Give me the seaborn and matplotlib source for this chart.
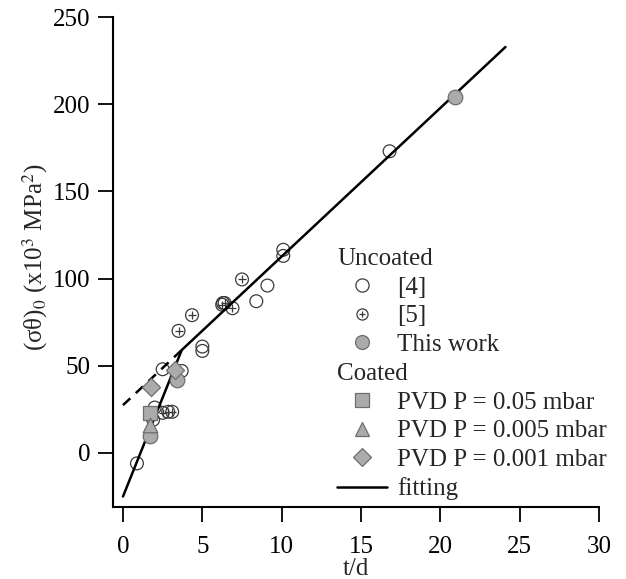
import numpy as np
import pandas as pd
import matplotlib
matplotlib.use('Agg')
import matplotlib.pyplot as plt
import seaborn as sns
from matplotlib.lines import Line2D
from matplotlib.legend_handler import HandlerTuple

# Uncoated [4] (open circles)
ref4_x = [0.88, 1.9, 2.0, 2.5, 3.7, 5.0, 5.0, 6.3, 8.4, 9.1, 10.1, 10.1, 16.8]
ref4_y = [-6, 19, 26, 48, 47, 61, 58.5, 86, 87, 96, 116.5, 113, 173]
# Uncoated [5] (circle with plus)
ref5_x = [2.5, 2.85, 3.1, 3.5, 4.35, 6.25, 6.4, 6.9, 7.5]
ref5_y = [23, 23.6, 23.6, 70, 79, 85, 86, 83, 99.5]
# Uncoated, this work
this_x = [1.7, 3.4, 20.9]
this_y = [9.8, 42, 204]
# Coated PVD
pvd05_x = [1.7]
pvd05_y = [23]
pvd005_x = [1.7]
pvd005_y = [16]
pvd001_x = [1.76, 3.28]
pvd001_y = [38, 47.7]
# fitting (two-segment) and dashed extension of upper segment
fit_x = [0, 3.7, 24.1]
fit_y = [-25, 59, 232.8]
ext_x = [0, 3.7]
ext_y = [27.4, 59]

labels = ['Uncoated', '[4]', '[5]', 'This work', 'Coated',
          'PVD P = 0.05 mbar', 'PVD P = 0.005 mbar', 'PVD P = 0.001 mbar', 'fitting']

sns.set_theme(style='ticks')
plt.rcParams['font.family'] = ['Liberation Serif', 'DejaVu Serif']
plt.rcParams['mathtext.fontset'] = 'stix'
plt.rcParams['font.size'] = 18

gray = '#ababab'
gedge = '#6e6e6e'
oedge = '#3a3a3a'

fig = plt.figure(figsize=(6.26, 5.79), dpi=100)
ax = fig.add_axes([0.1805, 0.1244, 0.7765, 0.8462])

sns.scatterplot(x=ref4_x, y=ref4_y, ax=ax, marker='o', s=85, facecolor='none',
                edgecolor=oedge, linewidth=0.9, zorder=2)
sns.scatterplot(x=ref5_x, y=ref5_y, ax=ax, marker='o', s=85, facecolor='none',
                edgecolor=oedge, linewidth=0.9, zorder=2)
sns.scatterplot(x=ref5_x, y=ref5_y, ax=ax, marker='+', s=40, color=oedge,
                linewidth=0.9, zorder=2)
sns.lineplot(x=fit_x, y=fit_y, ax=ax, color='black', lw=1.8, zorder=3)
sns.lineplot(x=ext_x, y=ext_y, ax=ax, color='black', lw=1.8, zorder=3,
             linestyle=(0, (4, 3)))
sns.scatterplot(x=this_x, y=this_y, ax=ax, marker='o', s=110, color=gray,
                edgecolor=gedge, linewidth=0.9, zorder=4)
sns.scatterplot(x=pvd05_x, y=pvd05_y, ax=ax, marker='s', s=110, color=gray,
                edgecolor=gedge, linewidth=0.9, zorder=4)
sns.scatterplot(x=pvd005_x, y=pvd005_y, ax=ax, marker='^', s=110, color=gray,
                edgecolor=gedge, linewidth=0.9, zorder=4)
sns.scatterplot(x=pvd001_x, y=pvd001_y, ax=ax, marker='D', s=85, color=gray,
                edgecolor=gedge, linewidth=0.9, zorder=5)

ax.set_xlim(-0.63, 30)
ax.set_ylim(-31, 250)
ax.set_xticks(np.arange(0, 31, 5))
ax.set_yticks(np.arange(0, 251, 50))
sns.despine(ax=ax)
for sp in ['left', 'bottom']:
    ax.spines[sp].set_linewidth(1.5)
    ax.spines[sp].set_color('black')
ax.tick_params(direction='out', length=11, width=1.3, labelsize=18, colors='black')
ax.tick_params(axis='x', pad=10)
ax.tick_params(axis='y', pad=5)

ax.set_xlabel('t/d', fontsize=18, labelpad=0)
ax.set_ylabel('(σθ)$_0$ (x10$^3$ MPa$^2$)', fontsize=18)
ax.yaxis.set_label_coords(-0.13, 0.51)

blank = Line2D([], [], linestyle='none')
h4 = Line2D([], [], marker='o', ls='none', mfc='none', mec=oedge, ms=9.5, mew=0.9)
h5 = (Line2D([], [], marker='o', ls='none', mfc='none', mec=oedge, ms=8, mew=0.9),
      Line2D([], [], marker='+', ls='none', mec=oedge, ms=5, mew=0.9))
hthis = Line2D([], [], marker='o', ls='none', mfc=gray, mec=gedge, ms=10, mew=0.9)
hsq = Line2D([], [], marker='s', ls='none', mfc=gray, mec=gedge, ms=10, mew=0.9)
htri = Line2D([], [], marker='^', ls='none', mfc=gray, mec=gedge, ms=10, mew=0.9)
hdia = Line2D([], [], marker='D', ls='none', mfc=gray, mec=gedge, ms=9, mew=0.9)
hfit = Line2D([], [], color='black', lw=1.8)
handles = [blank, h4, h5, hthis, blank, hsq, htri, hdia, hfit]

leg = ax.legend(handles, labels, loc='upper left', bbox_to_anchor=(0.461, 0.530),
                frameon=False, borderpad=0, borderaxespad=0, handlelength=2.0,
                handletextpad=0.4, labelspacing=0.25, fontsize=18,
                handler_map={tuple: HandlerTuple(ndivide=1)})
# header rows: no handle space
col = leg._legend_handle_box.get_children()[0]
items = col.get_children()
for i in [0, 4]:
    items[i].get_children()[0].width = 0
    items[i].sep = 0

fig.savefig('out.png', dpi=100, facecolor='white')
